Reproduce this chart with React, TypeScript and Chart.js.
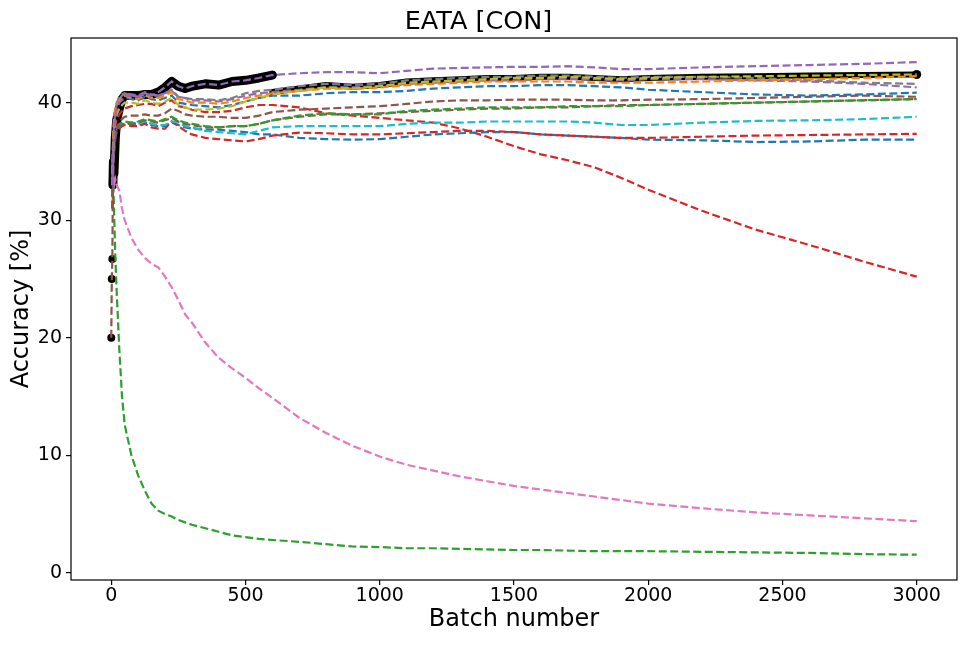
import React, { useEffect, useRef } from "react";
import { Chart, registerables } from "chart.js";

Chart.register(...registerables);

const FONT = "'DejaVu Sans', sans-serif";

const BATCH = [0, 2, 4, 6, 8, 10, 15, 20, 30, 40, 50, 75, 100, 125, 150, 175, 200, 225, 250, 275, 300, 350, 400, 450, 500, 550, 600, 700, 800, 900, 1000, 1100, 1200, 1300, 1400, 1500, 1600, 1700, 1800, 1900, 2000, 2200, 2400, 2600, 2800, 3000];

const X_TICKS = [0, 500, 1000, 1500, 2000, 2500, 3000];
const Y_TICKS = [0, 10, 20, 30, 40];

const BLACK_EARLY = [20, 25, 26.7, 33, 35, 34, 37, 38.5, 39.5, 40.3, 40.6, 40.6, 40.6, 40.7, 40.7, 40.9, 41.3, 41.8, 41.4, 41.2, 41.4, 41.6, 41.5, 41.8, 41.9, 42.1, 42.35];
const BLACK_LATE = [null, null, null, null, null, null, null, null, null, null, null, null, null, null, null, null, null, null, null, null, null, null, null, null, null, null, 40.9, 41.2, 41.5, 41.35, 41.5, 41.8, 41.9, 42.0, 42.1, 42.1, 42.2, 42.2, 42.1, 42.0, 42.1, 42.2, 42.25, 42.3, 42.35, 42.4];

const BLUE_A = [null, null, 33, 35, 36.5, 37.5, 38.8, 39.5, 40.0, 40.2, 40.4, 40.3, 40.2, 40.5, 40.3, 40.2, 40.4, 40.6, 40.0, 39.9, 39.8, 39.7, 39.6, 39.8, 40.1, 40.4, 40.6, 40.6, 40.8, 40.9, 40.9, 41.0, 41.2, 41.3, 41.4, 41.4, 41.5, 41.5, 41.4, 41.3, 41.1, 40.9, 40.7, 40.6, 40.7, 40.85];
const ORANGE = [null, null, 34, 36, 37.5, 38.5, 39.5, 39.8, 40.2, 40.5, 40.6, 40.4, 40.3, 40.6, 40.4, 40.4, 40.6, 40.9, 40.3, 40.2, 40.0, 40.0, 39.9, 40.1, 40.4, 40.6, 40.8, 41.0, 41.2, 41.2, 41.3, 41.5, 41.6, 41.7, 41.8, 41.8, 41.8, 41.8, 41.7, 41.7, 41.7, 41.8, 41.9, 42.0, 42.1, 42.25];
const GREEN_A = [null, null, 35, 34, 33, 31, 27, 24, 19, 15, 12.6, 10, 8.3, 7, 5.9, 5.3, 5.0, 4.8, 4.5, 4.3, 4.1, 3.8, 3.5, 3.2, 3.05, 2.9, 2.8, 2.65, 2.45, 2.25, 2.2, 2.1, 2.1, 2.05, 2.0, 1.95, 1.95, 1.9, 1.85, 1.85, 1.85, 1.8, 1.75, 1.7, 1.6, 1.55];
const GREEN_B = [null, null, 33, 35, 36, 36.8, 37.5, 37.9, 38.2, 38.3, 38.4, 38.3, 38.4, 38.6, 38.5, 38.4, 38.6, 38.8, 38.5, 38.3, 38.2, 38.0, 37.9, 38.0, 38.0, 38.2, 38.5, 38.9, 39.1, 39.0, 39.0, 39.3, 39.4, 39.5, 39.6, 39.6, 39.6, 39.7, 39.7, 39.7, 39.8, 39.9, 40.0, 40.1, 40.2, 40.3];
const RED_A = [null, null, 31, 34, 36, 37, 38, 38.6, 39.0, 39.3, 39.5, 39.7, 39.8, 39.9, 39.9, 39.7, 40.0, 40.2, 39.7, 39.6, 39.4, 39.2, 39.2, 39.3, 39.6, 39.8, 39.8, 39.6, 39.1, 38.9, 38.7, 38.5, 38.3, 37.8, 37.1, 36.3, 35.6, 35.1, 34.5, 33.6, 32.6, 30.8, 29.2, 27.9, 26.5, 25.2];
const RED_B = [null, null, 31, 33, 35, 36, 37, 37.5, 37.8, 38.0, 38.1, 38.0, 38.0, 38.2, 37.9, 37.8, 37.8, 38.4, 38.0, 37.6, 37.3, 37.0, 36.9, 36.8, 36.7, 36.9, 37.2, 37.45, 37.4, 37.3, 37.3, 37.4, 37.5, 37.6, 37.6, 37.5, 37.3, 37.2, 37.1, 37.0, 37.0, 37.1, 37.2, 37.25, 37.3, 37.35];
const PURPLE_A = [null, null, 33, 35, 36.5, 37.5, 38.8, 39.5, 40.0, 40.3, 40.6, 40.6, 40.5, 40.7, 40.6, 40.9, 41.3, 41.8, 41.4, 41.2, 41.4, 41.6, 41.5, 41.8, 41.9, 42.1, 42.35, 42.5, 42.6, 42.6, 42.5, 42.7, 42.9, 42.95, 43.0, 43.05, 43.05, 43.1, 43.0, 42.85, 42.85, 43.0, 43.1, 43.2, 43.3, 43.45];
const PURPLE_B = [null, null, 33.5, 35.5, 37, 38, 39.2, 39.8, 40.3, 40.6, 40.8, 40.7, 40.6, 40.9, 40.7, 40.6, 40.8, 41.0, 40.5, 40.4, 40.2, 40.2, 40.1, 40.3, 40.6, 40.8, 40.9, 41.1, 41.3, 41.3, 41.4, 41.6, 41.7, 41.8, 41.9, 41.9, 42.0, 42.0, 42.0, 41.9, 42.0, 42.0, 41.9, 41.8, 41.6, 41.3];
const BROWN_A = [20, 25, 26.7, 33, 35, 35.5, 37, 37.8, 38.3, 38.6, 38.8, 38.9, 38.9, 39.0, 38.9, 38.9, 39.1, 39.5, 39.3, 39.0, 38.9, 38.8, 38.8, 38.7, 38.7, 38.9, 39.2, 39.4, 39.5, 39.6, 39.7, 39.9, 40.1, 40.2, 40.2, 40.25, 40.25, 40.25, 40.2, 40.2, 40.25, 40.3, 40.4, 40.5, 40.6, 40.5];
const BROWN_B = [null, null, 32, 34.5, 35.5, 36.5, 37.2, 37.6, 38.0, 38.1, 38.2, 38.2, 38.3, 38.5, 38.4, 38.3, 38.5, 38.7, 38.4, 38.2, 38.1, 37.9, 37.9, 38.0, 38.0, 38.2, 38.5, 38.8, 39.0, 39.0, 39.1, 39.2, 39.3, 39.4, 39.5, 39.5, 39.6, 39.6, 39.7, 39.8, 39.8, 39.9, 40.0, 40.1, 40.2, 40.3];
const PINK = [null, null, 33, 34, 33.5, 33, 33.5, 33, 32.5, 31, 30, 28.5, 27.5, 26.8, 26.3, 26, 25.2, 24.3, 23.2, 22, 21.3, 19.6, 18.3, 17.4, 16.6, 15.7, 14.9, 13.2, 11.9, 10.8, 9.9, 9.2, 8.7, 8.2, 7.8, 7.4, 7.1, 6.8, 6.5, 6.2, 5.9, 5.5, 5.15, 4.9, 4.65, 4.4];
const GRAY = [null, null, 34, 36, 37.5, 38.5, 39.6, 40.0, 40.4, 40.7, 40.8, 40.6, 40.5, 40.8, 40.6, 40.6, 40.8, 41.1, 40.5, 40.4, 40.3, 40.3, 40.2, 40.4, 40.8, 41.0, 41.1, 41.4, 41.6, 41.5, 41.6, 41.9, 42.0, 42.1, 42.2, 42.2, 42.3, 42.3, 42.2, 42.1, 42.2, 42.2, 42.1, 41.9, 41.7, 41.6];
const OLIVE = [null, null, 33, 35, 36.5, 37.5, 38.5, 39.0, 39.5, 39.8, 40.0, 40.0, 39.9, 40.2, 40.0, 39.9, 40.1, 40.4, 39.8, 39.6, 39.4, 39.4, 39.5, 39.7, 40.1, 40.4, 40.7, 41.0, 41.3, 41.2, 41.4, 41.7, 41.8, 41.9, 42.0, 42.1, 42.1, 42.2, 42.1, 42.0, 42.1, 42.2, 42.25, 42.3, 42.35, 42.4];
const CYAN = [null, null, 32, 34, 35.5, 36.5, 37.3, 37.7, 38.0, 38.2, 38.3, 38.3, 38.2, 38.4, 38.2, 38.1, 38.1, 38.4, 38.3, 38.0, 37.9, 37.6, 37.5, 37.4, 37.3, 37.6, 37.9, 38.0, 38.0, 38.0, 38.0, 38.2, 38.3, 38.3, 38.4, 38.4, 38.4, 38.4, 38.3, 38.1, 38.1, 38.3, 38.45, 38.5, 38.6, 38.8];
const BLUE_B = [null, null, 32, 34, 35.5, 36.5, 37.2, 37.6, 37.9, 38.1, 38.2, 38.2, 38.1, 38.3, 38.1, 38.0, 38.0, 38.3, 38.1, 37.9, 37.8, 37.7, 37.7, 37.6, 37.5, 37.3, 37.3, 37.0, 36.9, 36.85, 36.9, 37.1, 37.3, 37.4, 37.5, 37.5, 37.3, 37.2, 37.1, 37.0, 36.85, 36.8, 36.65, 36.7, 36.85, 36.85];

const toPoints = (vals: (number | null)[]) =>
  BATCH.map((x, i) => ({ x, y: vals[i] })).filter((p) => p.y !== null && p.y !== undefined) as { x: number; y: number }[];

const SERIES: { color: string; values: (number | null)[] }[] = [
  { color: "#9467bd", values: PURPLE_A },
  { color: "#bcbd22", values: OLIVE },
  { color: "#ff7f0e", values: ORANGE },
  { color: "#7f7f7f", values: GRAY },
  { color: "#9467bd", values: PURPLE_B },
  { color: "#1f77b4", values: BLUE_A },
  { color: "#8c564b", values: BROWN_A },
  { color: "#2ca02c", values: GREEN_B },
  { color: "#8c564b", values: BROWN_B },
  { color: "#17becf", values: CYAN },
  { color: "#d62728", values: RED_B },
  { color: "#1f77b4", values: BLUE_B },
  { color: "#d62728", values: RED_A },
  { color: "#e377c2", values: PINK },
  { color: "#2ca02c", values: GREEN_A },
];

const framePlugin = {
  id: "frame",
  afterDraw(chart: any) {
    const { ctx, chartArea } = chart;
    const { left, top, right, bottom } = chartArea;
    ctx.save();
    ctx.strokeStyle = "#000";
    ctx.lineWidth = 1.2;
    ctx.strokeRect(left, top, right - left, bottom - top);
    ctx.restore();
  },
};

export default function App() {
  const ref = useRef<HTMLCanvasElement | null>(null);

  useEffect(() => {
    document.body.style.margin = "0";
    if (!ref.current) return;

    const datasets: any[] = SERIES.map((s) => ({
      data: toPoints(s.values),
      borderColor: s.color,
      backgroundColor: s.color,
      borderWidth: 2.2,
      borderDash: [8, 3.5],
      pointRadius: 0,
      tension: 0,
      fill: false,
      order: 1,
    }));

    const lateCount = BLACK_LATE.filter((v) => v !== null).length;

    datasets.push({
      data: toPoints(BLACK_EARLY),
      borderColor: "#000",
      backgroundColor: "#000",
      borderWidth: 9,
      borderCapStyle: "round",
      borderJoinStyle: "round",
      pointRadius: 4,
      pointBorderWidth: 0,
      pointBackgroundColor: "#000",
      segment: {
        borderColor: (ctx: any) => (ctx.p0DataIndex < 3 ? "rgba(0,0,0,0)" : "#000"),
      },
      tension: 0,
      fill: false,
      order: 10,
    });
    datasets.push({
      data: toPoints(BLACK_LATE),
      borderColor: "#000",
      backgroundColor: "#000",
      borderWidth: 6,
      borderCapStyle: "round",
      borderJoinStyle: "round",
      pointRadius: (ctx: any) => (ctx.dataIndex === lateCount - 1 ? 4.5 : 0),
      pointBorderWidth: 0,
      pointBackgroundColor: "#000",
      tension: 0,
      fill: false,
      order: 10,
    });

    const chart = new Chart(ref.current, {
      type: "line",
      data: { datasets },
      plugins: [framePlugin],
      options: {
        animation: false,
        responsive: false,
        maintainAspectRatio: false,
        devicePixelRatio: 1,
        layout: { padding: { right: 12, left: 0, top: 0, bottom: 0 } },
        plugins: {
          legend: { display: false },
          tooltip: { enabled: false },
          title: {
            display: true,
            text: "EATA [CON]",
            color: "#000",
            font: { family: FONT, size: 25.5, weight: "normal" },
            padding: { top: 7, bottom: 0.4 },
          },
        },
        scales: {
          x: {
            type: "linear",
            min: -150,
            max: 3150,
            afterBuildTicks: (s: any) => {
              s.ticks = X_TICKS.map((v) => ({ value: v }));
            },
            afterFit: (s: any) => {
              s.height = 66;
            },
            grid: { display: true, drawOnChartArea: false, drawTicks: true, tickLength: 5, color: "#000", lineWidth: 1.2 },
            border: { display: false },
            ticks: {
              color: "#000",
              font: { family: FONT, size: 19 },
              padding: 0,
              maxRotation: 0,
              autoSkip: false,
              callback: (v: any) => String(v),
            },
            title: {
              display: true,
              text: "Batch number",
              color: "#000",
              font: { family: FONT, size: 24 },
              padding: { top: 0, bottom: 11.6 },
            },
          },
          y: {
            type: "linear",
            min: -0.6,
            max: 45.5,
            afterBuildTicks: (s: any) => {
              s.ticks = Y_TICKS.map((v) => ({ value: v }));
            },
            afterFit: (s: any) => {
              s.width = 71;
            },
            grid: { display: true, drawOnChartArea: false, drawTicks: true, tickLength: 5, color: "#000", lineWidth: 1.2 },
            border: { display: false },
            ticks: {
              color: "#000",
              font: { family: FONT, size: 19 },
              padding: 4,
              autoSkip: false,
              callback: (v: any) => String(v),
            },
            title: {
              display: true,
              text: "Accuracy [%]",
              color: "#000",
              font: { family: FONT, size: 24 },
              padding: { top: 7.6, bottom: 0 },
            },
          },
        },
      },
    });

    return () => chart.destroy();
  }, []);

  return (
    <div style={{ width: 969, height: 646, background: "#fff" }}>
      <canvas ref={ref} width={969} height={646} style={{ display: "block", width: 969, height: 646 }} />
    </div>
  );
}
